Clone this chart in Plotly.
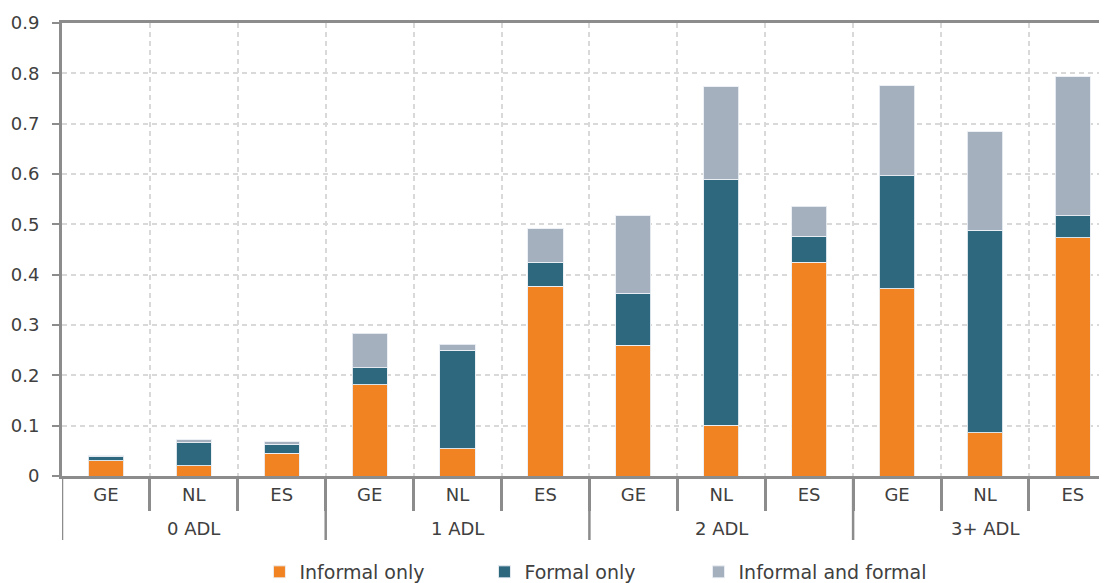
import plotly.graph_objects as go

groups = ["0 ADL", "1 ADL", "2 ADL", "3+ ADL"]
countries = ["GE", "NL", "ES"]

informal_only = [0.030, 0.020, 0.045,
                 0.181, 0.054, 0.377,
                 0.260, 0.101, 0.425,
                 0.372, 0.086, 0.473]
formal_only = [0.008, 0.046, 0.018,
               0.034, 0.196, 0.048,
               0.103, 0.489, 0.051,
               0.225, 0.402, 0.044]
informal_and_formal = [0.002, 0.006, 0.005,
                       0.069, 0.012, 0.066,
                       0.154, 0.183, 0.060,
                       0.178, 0.196, 0.276]

y_ticks = [0, 0.1, 0.2, 0.3, 0.4, 0.5, 0.6, 0.7, 0.8, 0.9]

series_names = ["Informal only", "Formal only", "Informal and formal"]
series_colors = ["#F28322", "#2E687E", "#A5B0BE"]

n = len(groups) * len(countries)
xpos = list(range(n))
cat_labels = [c for g in groups for c in countries]

FONT = "DejaVu Sans, Verdana, sans-serif"
AXIS_GRAY = "#8C8C8C"
GRID = "#D9D9D9"
TEXT = "#404040"

legend_ids = ["legend", "legend2", "legend3"]
legend_x = [0.1904, 0.4074, 0.6138]

fig = go.Figure()
for name, vals, col, lid in zip(series_names, [informal_only, formal_only, informal_and_formal],
                                series_colors, legend_ids):
    fig.add_trace(go.Bar(
        x=xpos, y=vals, name=name, legend=lid,
        marker=dict(color=col, line=dict(color="rgba(235,240,245,0.9)", width=1)),
        width=0.40,
    ))

# the page body has an 8px margin
W, H = 1091, 575
ml, mt = 54, 15
plot_bottom = 468
mb = H - plot_bottom
plot_w = W - ml
plot_h = plot_bottom - mt
cat_px = 87.9
x_end = -0.5 + plot_w / cat_px

def paper_y(px_screen):
    return (476 - px_screen) / plot_h

boundaries = [i + 0.5 for i in range(n - 1)]

def leg(x):
    return dict(
        orientation="h", x=x, xanchor="left",
        y=paper_y(572), yanchor="middle",
        font=dict(family=FONT, size=19, color=TEXT),
        itemwidth=30, bgcolor="rgba(0,0,0,0)",
    )

fig.update_layout(
    width=W, height=H,
    margin=dict(l=ml, r=0, t=mt, b=mb, autoexpand=False),
    barmode="stack",
    plot_bgcolor="white", paper_bgcolor="white",
    font=dict(family=FONT, size=18, color=TEXT),
    showlegend=True,
    legend=leg(legend_x[0]),
    legend2=leg(legend_x[1]),
    legend3=leg(legend_x[2]),
    xaxis=dict(
        range=[-0.5, x_end],
        tickmode="array", tickvals=xpos, ticktext=cat_labels,
        ticks="", ticklen=0, showgrid=False,
        showline=True, linecolor=AXIS_GRAY, linewidth=3, mirror=True,
        tickfont=dict(family=FONT, size=18, color=TEXT),
        minor=dict(tickvals=boundaries, ticks="outside", ticklen=32,
                   tickcolor=AXIS_GRAY, tickwidth=2.5,
                   showgrid=True, gridcolor=GRID, griddash="5px,4px", gridwidth=1.5),
        zeroline=False,
        automargin=False,
    ),
    yaxis=dict(
        range=[0, 0.9], tickmode="array", tickvals=y_ticks,
        ticktext=[("%g" % v) for v in y_ticks],
        ticks="outside", ticklen=7, tickcolor=AXIS_GRAY, tickwidth=2,
        ticklabelstandoff=9,
        showline=True, linecolor=AXIS_GRAY, linewidth=3,
        showgrid=True, gridcolor=GRID, griddash="5px,4px", gridwidth=1.5,
        zeroline=False,
        automargin=False,
        tickfont=dict(family=FONT, size=18, color=TEXT),
    ),
)

for b in [-0.5, 2.5, 5.5, 8.5]:
    fig.add_shape(type="line", xref="x", yref="paper",
                  x0=b, x1=b, y0=0, y1=paper_y(540),
                  line=dict(color=AXIS_GRAY, width=2.5))

for gi, g in enumerate(groups):
    fig.add_annotation(x=gi * 3 + 1, xref="x", y=paper_y(528), yref="paper",
                       text=g, showarrow=False, yanchor="middle",
                       font=dict(family=FONT, size=18, color=TEXT))

fig.write_html("out.html")
